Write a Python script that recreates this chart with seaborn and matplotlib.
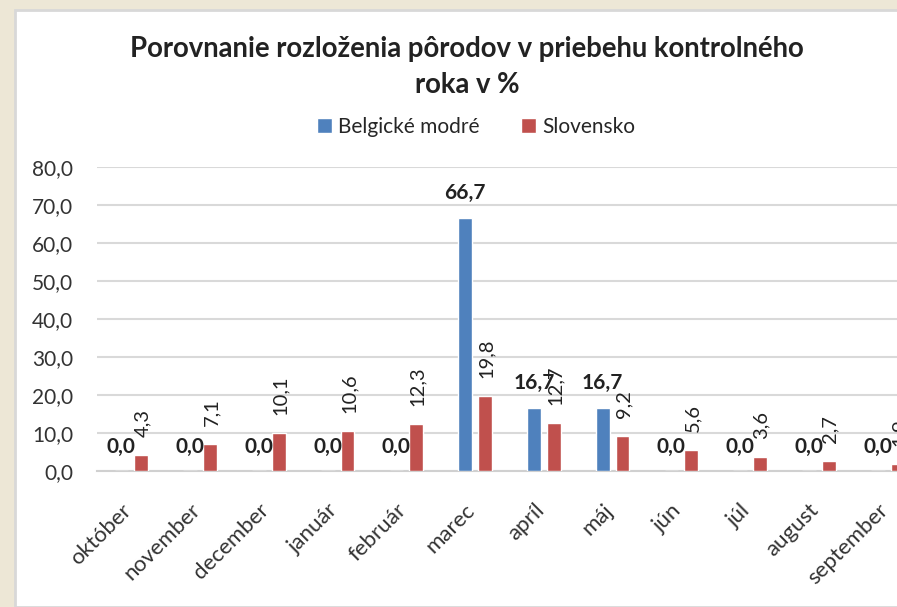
import matplotlib
matplotlib.use("Agg")
import matplotlib.pyplot as plt
import matplotlib.transforms as mtransforms
import seaborn as sns
import pandas as pd
from matplotlib.patches import Rectangle

months = ["október", "november", "december", "január", "február", "marec",
          "apríl", "máj", "jún", "júl", "august", "september"]
belgicke = [0.0, 0.0, 0.0, 0.0, 0.0, 66.7, 16.7, 16.7, 0.0, 0.0, 0.0, 0.0]
slovensko = [4.3, 7.1, 10.1, 10.6, 12.3, 19.8, 12.7, 9.2, 5.6, 3.6, 2.7, 1.9]
series_names = ["Belgické modré", "Slovensko"]
yticks = [0, 10, 20, 30, 40, 50, 60, 70, 80]
title = "Porovnanie rozloženia pôrodov v priebehu kontrolného\nroka v %"

colors = ["#4F81BD", "#C0504D"]

df = pd.DataFrame({
    "month": months * 2,
    "value": belgicke + slovensko,
    "series": [series_names[0]] * len(months) + [series_names[1]] * len(months),
})

sns.set_theme(style="white")
plt.rcParams["font.family"] = ["Lato", "DejaVu Sans"]

W, H = 897, 607
fig = plt.figure(figsize=(W / 100, H / 100), dpi=100, facecolor="#ede7d6")
fig.patches.append(Rectangle((15 / W, 0), 1, (H - 10) / H, transform=fig.transFigure,
                             facecolor="white", edgecolor="#d8d8d8", linewidth=2, zorder=-5))

ax = fig.add_axes([97 / W, (H - 471) / H, 825 / W, 304 / H])
ax.set_facecolor("none")
sns.barplot(data=df, x="month", y="value", hue="series", order=months,
            hue_order=series_names, palette=colors, width=0.58, gap=0.31,
            saturation=1, ax=ax, legend=False, zorder=3)

ax.set_ylim(0, 80)
ax.set_xlim(-0.5, len(months) - 0.5)
ax.set_yticks(yticks)
ax.set_yticklabels([f"{v:.1f}".replace(".", ",") for v in yticks], fontsize=15, color="#333333")
ax.yaxis.grid(True, color="#d9d9d9", linewidth=1.5, zorder=0)
ax.xaxis.grid(False)
for s in ["top", "right", "left"]:
    ax.spines[s].set_visible(False)
ax.spines["bottom"].set_color("#d0d0d0")
ax.spines["bottom"].set_linewidth(1.5)
ax.tick_params(axis="y", length=0, pad=17)
ax.tick_params(axis="x", length=0, pad=26)
ax.set_xlabel("")
ax.set_ylabel("")
ax.set_xticks(range(len(months)))
ax.set_xticklabels(months, rotation=45, ha="right", va="center", rotation_mode="anchor",
                   fontsize=16, color="#333333")
shift = mtransforms.ScaledTranslation(-3 / 100, 0, fig.dpi_scale_trans)
for lbl in ax.get_xticklabels():
    lbl.set_transform(lbl.get_transform() + shift)

off = 0.145
for i, (b, s) in enumerate(zip(belgicke, slovensko)):
    ax.annotate(f"{b:.1f}".replace(".", ","), (i - off, b), xytext=(0, 17.5),
                textcoords="offset points", ha="center", va="center",
                fontsize=15, fontweight="bold", color="#222222", zorder=5)
    ax.annotate(f"{s:.1f}".replace(".", ","), (i + off, s), xytext=(1, 13),
                textcoords="offset points", ha="center", va="bottom", rotation=90,
                fontsize=14.5, color="#222222", zorder=5)

fig.text(467 / W, 1 - 67 / H, title, ha="center", va="center", fontsize=19.8,
         fontweight="bold", color="#222222", linespacing=1.45)

handles = [Rectangle((0, 0), 1, 1, facecolor=c) for c in colors]
fig.legend(handles, series_names, loc="center", bbox_to_anchor=(476 / W, 1 - 127 / H),
           ncol=2, frameon=False, fontsize=15, handlelength=0.7, handleheight=0.7,
           handletextpad=0.3, columnspacing=2.0)

fig.savefig("out.png", dpi=100, facecolor=fig.get_facecolor())
